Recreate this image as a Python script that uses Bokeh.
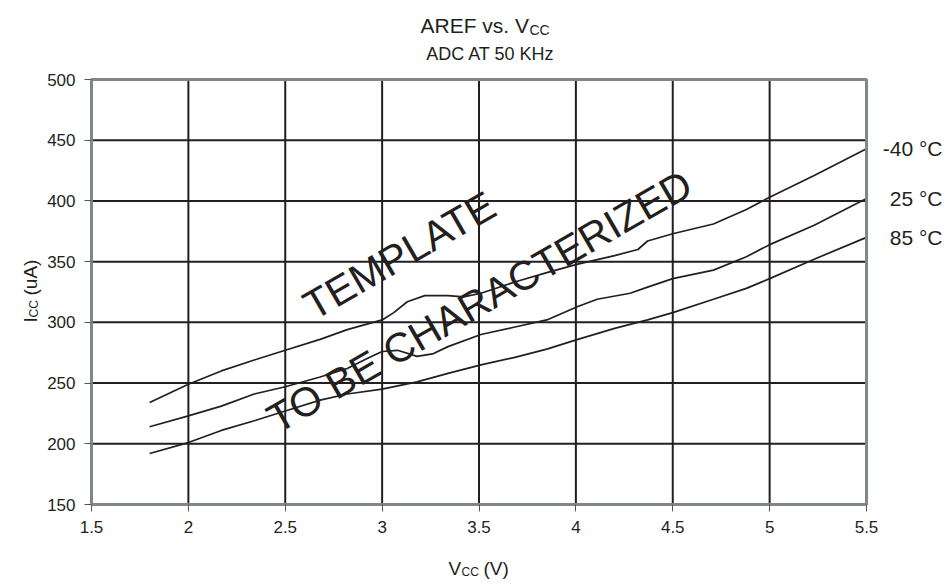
import math
from bokeh.plotting import figure
from bokeh.models import Range1d, FixedTicker, Label, LinearAxis
from bokeh.embed import file_html
from bokeh.resources import INLINE

# ---------------- data ----------------
v_m40 = [1.8, 2.0, 2.17, 2.34, 2.5, 2.68, 2.82, 3.0, 3.06, 3.13, 3.22, 3.34, 3.42, 3.51,
         3.68, 3.85, 4.01, 4.2, 4.32, 4.37, 4.5, 4.71, 4.88, 5.0, 5.23, 5.5]
i_m40 = [234, 249, 260, 269, 277, 286, 294, 302, 308, 317, 322, 322, 321, 324,
         333, 341, 348, 355, 360, 367, 373, 381, 393, 403, 421, 443]

v_25 = [1.8, 2.0, 2.17, 2.34, 2.5, 2.68, 2.82, 2.92, 3.0, 3.08, 3.18, 3.26, 3.34, 3.51,
        3.68, 3.85, 4.01, 4.11, 4.28, 4.37, 4.5, 4.71, 4.88, 5.0, 5.23, 5.5]
i_25 = [214, 223, 231, 241, 247, 255, 262, 270, 276, 277, 272, 274, 280, 290,
        296, 302, 313, 319, 324, 329, 336, 343, 354, 364, 380, 402]

v_85 = [1.8, 2.0, 2.17, 2.34, 2.5, 2.68, 2.82, 3.0, 3.18, 3.34, 3.51, 3.68, 3.85, 4.01,
        4.2, 4.37, 4.5, 4.71, 4.88, 5.0, 5.23, 5.5]
i_85 = [192, 201, 211, 219, 227, 236, 241, 245, 251, 258, 265, 271, 278, 286,
        295, 302, 308, 319, 328, 336, 352, 370]

series_names = ["-40 °C", "25 °C", "85 °C"]

x_ticks = [1.5, 2.0, 2.5, 3.0, 3.5, 4.0, 4.5, 5.0, 5.5]
x_tick_labels = ["1.5", "2", "2.5", "3", "3.5", "4", "4.5", "5", "5.5"]
y_ticks = [150, 200, 250, 300, 350, 400, 450, 500]
y_tick_labels = ["150", "200", "250", "300", "350", "400", "450", "500"]

title_main = "AREF vs. V"
title_sub = "CC"
subtitle = "ADC AT 50 KHz"
watermark_1 = "TEMPLATE"
watermark_2 = "TO BE CHARACTERIZED"

# ---------------- layout ----------------
W, H = 944, 580
BL, BR, BT, BB = 91, 78, 79, 76      # plot-area margins inside the canvas
X0, X1 = 1.5, 5.5
Y0, Y1 = 150, 500
FONT = "Liberation Sans"
INK = "#231f20"
FRAME = "#80868c"

fw = W - BL - BR
fh = H - BT - BB
kx = (X1 - X0) / fw
ky = (Y1 - Y0) / fh


def px2x(px):
    return X0 + (px - BL) * kx


def px2y(py):
    return Y1 - (py - BT) * ky


# the frame fills the whole canvas, so every text can sit inside it
p = figure(width=W, height=H, output_backend="svg", toolbar_location=None,
           x_range=Range1d(px2x(0), px2x(W)), y_range=Range1d(px2y(H), px2y(0)),
           x_axis_location=None, y_axis_location=None,
           min_border_left=0, min_border_right=0, min_border_top=0,
           min_border_bottom=0)
p.outline_line_color = None
p.background_fill_color = "white"
p.border_fill_color = "white"
p.xgrid.visible = False
p.ygrid.visible = False

# grid lines inside the plot area only
gx = x_ticks[1:-1]
gy = y_ticks[1:-1]
p.segment(x0=gx, y0=[Y0] * len(gx), x1=gx, y1=[Y1] * len(gx),
          line_color=INK, line_width=2)
p.segment(x0=[X0] * len(gy), y0=gy, x1=[X1] * len(gy), y1=gy,
          line_color=INK, line_width=2)

# curves
for xs, ys in ((v_m40, i_m40), (v_25, i_25), (v_85, i_85)):
    p.line(xs, ys, line_color=INK, line_width=1.7)

# plot-area border
p.quad(left=[X0], right=[X1], bottom=[Y0], top=[Y1], fill_color=None,
       line_color=FRAME, line_width=3)

# axes, placed at the plot-area edges
xa = LinearAxis(fixed_location=Y0, bounds=(X0, X1))
ya = LinearAxis(fixed_location=X0, bounds=(Y0, Y1))
for ax, ticks, labels in ((xa, x_ticks, x_tick_labels), (ya, y_ticks, y_tick_labels)):
    ax.ticker = FixedTicker(ticks=ticks)
    ax.major_label_overrides = {t: l for t, l in zip(ticks, labels)}
    ax.axis_line_color = FRAME
    ax.axis_line_width = 3
    ax.major_tick_line_color = "#555555"
    ax.major_tick_line_width = 1
    ax.major_tick_in = 0
    ax.major_tick_out = 7
    ax.minor_tick_line_color = None
    ax.major_label_text_font = FONT
    ax.major_label_text_font_size = "17px"
    ax.major_label_text_color = INK
    ax.major_label_standoff = 9
p.add_layout(xa, "below")
p.add_layout(ya, "left")


def label(px, py, text, size, align="left", baseline="alphabetic", angle=0.0):
    p.add_layout(Label(x=px2x(px), y=px2y(py), text=text, angle=angle,
                       text_align=align, text_baseline=baseline, text_font=FONT,
                       text_font_size=size, text_color=INK))


# right-hand series labels at each curve end
for name, ys in zip(series_names, (i_m40, i_25, i_85)):
    p.add_layout(Label(x=px2x(942), y=ys[-1], text=name, text_align="right",
                       text_baseline="middle", text_font=FONT,
                       text_font_size="21px", text_color=INK))

# watermark
ang = math.pi / 6
label(399, 255, watermark_1, "41px", align="center", baseline="middle", angle=ang)
label(479, 301, watermark_2, "41px", align="center", baseline="middle", angle=ang)

# title with subscript
label(420, 25, title_main, "21px")
label(529, 29, title_sub, "14px")
label(490, 53, subtitle, "18px", align="center")

# x axis label: V_CC (V)
label(448, 568, "V", "19px")
label(461, 571, "CC", "12px")
label(483, 568, "(V)", "19px")

# y axis label: I_CC (uA), rotated
up = math.pi / 2
label(30, 322, "I", "19px", angle=up)
label(33, 317, "CC", "12px", angle=up)
label(30, 295, "(uA)", "19px", angle=up)

open("out.html", "w").write(file_html(p, INLINE))
